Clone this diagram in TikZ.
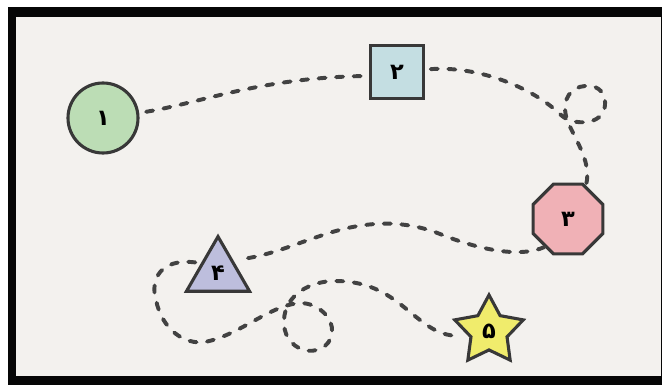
\documentclass[tikz,border=0pt]{standalone}
\usepackage{fontspec}
\usetikzlibrary{shapes.geometric}
\newfontfamily\arabicfont[Script=Arabic]{DejaVu Sans}
\TeXXeTstate=1
\definecolor{paper}{HTML}{F3F1EE}
\definecolor{frame}{HTML}{060606}
\definecolor{ink}{HTML}{383838}
\definecolor{mint}{HTML}{BCDDB5}
\definecolor{sky}{HTML}{C4DEE2}
\definecolor{rose}{HTML}{F0B1B6}
\definecolor{lilac}{HTML}{BDBEDD}
\definecolor{lemon}{HTML}{F0EC6C}

\begin{document}
\begin{tikzpicture}[x=0.025cm, y=-0.025cm,
  spot/.style={draw=ink, line width=2.2pt, inner sep=0pt,
    font=\arabicfont\bfseries\fontsize{16}{18}\selectfont},
  route/.style={draw=ink!95, line width=2.8pt, line cap=round,
    dash pattern=on 5pt off 7.5pt}]

% Background and frame
\useasboundingbox (0,0) rectangle (662,385);
\fill[white] (0,0) rectangle (662,385);
\fill[frame] (8,7) rectangle (662,385);
\fill[paper] (16,17) rectangle (661,376);

% The five stops
\node[spot, circle, fill=mint, minimum size=1.75cm] (c1) at (103,118) {\beginR ۱\endR};
\node[spot, rectangle, fill=sky, minimum size=1.33cm] (sq2) at (397,72) {\beginR ۲\endR};
\node[spot, regular polygon, regular polygon sides=8, fill=rose,
  minimum size=1.89cm] (oct3) at (568,219) {\beginR ۳\endR};
\node[spot, regular polygon, regular polygon sides=3, fill=lilac,
  minimum size=1.82cm] (tri4) at (218,273) {\beginR ۴\endR};
\node[spot, star, star points=5, star point ratio=1.9, fill=lemon,
  minimum size=1.8cm] (star5) at (489,331) {\beginR ۵\endR};

% 1 to 2
\draw[route, shorten <=5pt, shorten >=5pt] (c1.8)
  .. controls (200,103) and (260,78) .. (sq2.188);

% 2 to 3, with a loop
\draw[route, shorten <=4pt] (sq2.5) .. controls (475,66) and (530,85) .. (561,115)
  .. controls (572,126) and (604,126) .. (605,105)
  .. controls (606,89) and (594,85) .. (585,86)
  .. controls (571,87) and (562,99) .. (566,116)
  .. controls (571,135) and (593,160) .. (oct3.62);

% 3 to 4
\draw[route, shorten >=4pt] (oct3.230) .. controls (520,258) and (480,250) .. (440,234)
  .. controls (400,218) and (360,222) .. (320,236)
  .. controls (290,246) and (268,256) .. (tri4.40);

% 4 to 5, with a loop
\draw[route, shorten <=4pt, shorten >=4pt] (tri4.150)
  .. controls (160,258) and (150,280) .. (156,300)
  .. controls (162,330) and (185,345) .. (205,342)
  .. controls (240,335) and (270,305) .. (300,303)
  .. controls (318,303) and (334,318) .. (332,333)
  .. controls (330,348) and (315,353) .. (304,350)
  .. controls (290,346) and (283,333) .. (284,320)
  .. controls (285,295) and (310,281) .. (335,281)
  .. controls (380,281) and (400,305) .. (420,320)
  .. controls (435,332) and (448,337) .. (star5.190);

\end{tikzpicture}
\end{document}
